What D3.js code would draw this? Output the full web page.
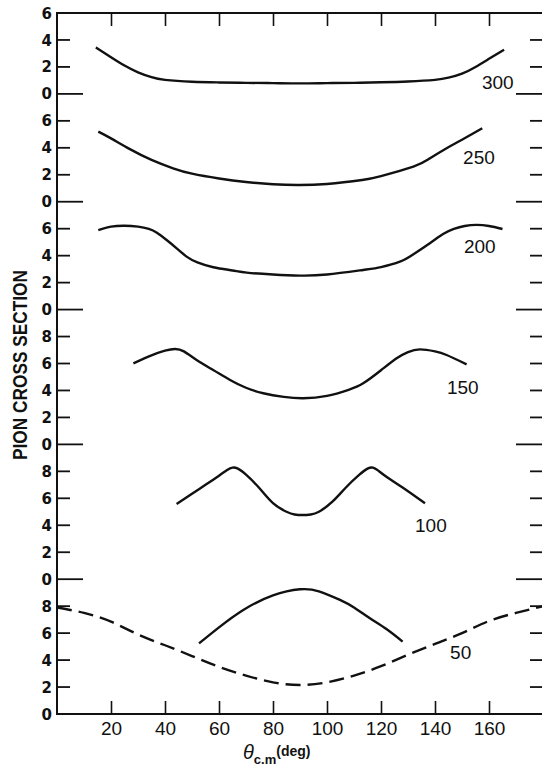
<!DOCTYPE html>
<html>
<head>
<meta charset="utf-8">
<script src="https://cdn.jsdelivr.net/npm/d3@7"></script>
<style>
  body { margin: 0; background: #fff; }
  svg { display: block; }
</style>
</head>
<body>
<svg id="chart"></svg>
<script>
// pion energies, one stacked panel each (top to bottom)
const energies = [300, 250, 200, 150, 100, 50];
// where each panel's zero sits on the stacked axis
const panelBase = [46, 38, 30, 20, 10, 0];
const panelTicks = [[0, 2, 4, 6], [0, 2, 4, 6], [0, 2, 4, 6], [0, 2, 4, 6, 8], [0, 2, 4, 6, 8], [0, 2, 4, 6, 8]];
const angleTicks = [20, 40, 60, 80, 100, 120, 140, 160];

// curves (theta c.m. in deg, cross section)
const ang300 = [14.4, 20, 25, 30, 35, 40, 50, 60, 70, 80, 90, 100, 110, 120, 130, 140, 145, 150, 155, 160, 165.6];
const cs300  = [3.45, 2.72, 2.1, 1.6, 1.24, 1.04, 0.9, 0.85, 0.82, 0.8, 0.78, 0.8, 0.82, 0.86, 0.92, 1.04, 1.2, 1.5, 2.0, 2.6, 3.28];

const ang250 = [15.3, 20, 27, 35, 43, 50, 60, 70, 80, 89, 100, 113, 120, 132, 138, 144.3, 150, 157.5];
const cs250  = [5.2, 4.7, 3.9, 3.1, 2.48, 2.08, 1.72, 1.46, 1.3, 1.24, 1.32, 1.61, 1.9, 2.6, 3.2, 3.97, 4.6, 5.45];

const ang200 = [15.3, 20, 25, 30, 34, 37, 40.6, 44, 48, 52, 57.9, 65, 70.3, 80, 90, 100, 113.4, 120, 127, 132, 138.1, 143, 147, 151, 155.4, 160, 165];
const cs200  = [5.9, 6.15, 6.22, 6.15, 5.98, 5.7, 5.16, 4.6, 3.93, 3.5, 3.14, 2.9, 2.74, 2.6, 2.52, 2.6, 2.94, 3.15, 3.55, 4.1, 4.92, 5.6, 5.98, 6.2, 6.28, 6.2, 5.98];

const ang150 = [28.3, 35, 40, 43.7, 47, 51.7, 58, 64.1, 70, 76.4, 84, 91.2, 100, 108, 113.4, 120, 125.8, 130, 134.4, 140, 144.3, 151.7];
const cs150  = [6.01, 6.6, 6.95, 7.08, 6.9, 6.26, 5.5, 4.78, 4.2, 3.79, 3.52, 3.42, 3.6, 4.05, 4.53, 5.5, 6.39, 6.85, 7.05, 6.9, 6.63, 5.94];

const ang100 = [44.3, 50, 55, 60, 63, 65, 67, 70, 75, 80, 85, 88, 91, 94, 97, 102, 107, 112, 115, 117, 119, 122, 128, 136.3];
const cs100  = [5.58, 6.34, 7.0, 7.68, 8.1, 8.28, 8.2, 7.75, 6.75, 5.65, 5.0, 4.8, 4.76, 4.8, 5.0, 5.75, 6.8, 7.75, 8.2, 8.28, 8.05, 7.6, 6.8, 5.63];

const ang50 = [52.6, 60, 69, 80, 90, 97, 104.8, 110, 115.9, 122, 128];
const cs50  = [5.24, 6.43, 7.72, 8.8, 9.25, 9.1, 8.46, 7.9, 7.1, 6.3, 5.37];

// dashed curve in the 50 panel
const angDash = [0, 10, 20, 30, 40, 50, 60, 70, 80, 90, 100, 110, 120, 130, 140, 150, 160, 170, 180];
const csDash  = [7.9, 7.5, 6.85, 5.9, 5.1, 4.3, 3.5, 2.85, 2.35, 2.15, 2.35, 2.85, 3.55, 4.4, 5.2, 6.0, 6.9, 7.5, 8.0];

const curves = [
  { angles: ang300, values: cs300 },
  { angles: ang250, values: cs250 },
  { angles: ang200, values: cs200 },
  { angles: ang150, values: cs150 },
  { angles: ang100, values: cs100 },
  { angles: ang50,  values: cs50 }
];

const width = 542, height = 769;
const margin = { left: 57, top: 13, right: -1, bottom: 55 };
const innerWidth = width - margin.left - margin.right;
const innerHeight = height - margin.top - margin.bottom;

const svg = d3.select('#chart')
  .attr('width', width)
  .attr('height', height);

const g = svg.append('g')
  .attr('transform', `translate(${margin.left},${margin.top})`);

const xScale = d3.scaleLinear().domain([0, 180]).range([0, innerWidth]);
const yScale = d3.scaleLinear().domain([0, 52]).range([innerHeight, 0]);

const line = d3.line()
  .x(d => xScale(d[0]))
  .y(d => yScale(d[1]))
  .curve(d3.curveNatural);

// frame
g.append('rect')
  .attr('width', innerWidth)
  .attr('height', innerHeight)
  .attr('fill', 'none')
  .attr('stroke', '#111')
  .attr('stroke-width', 2);

// x axis, inward ticks on top and bottom
const xAxis = d3.axisBottom(xScale)
  .tickValues(angleTicks)
  .tickSizeInner(-13)
  .tickSizeOuter(0)
  .tickPadding(8);

const xAxisG = g.append('g')
  .attr('transform', `translate(0,${innerHeight})`)
  .call(xAxis);
xAxisG.select('.domain').remove();
xAxisG.selectAll('line').attr('stroke', '#111').attr('stroke-width', 1.6);
xAxisG.selectAll('text')
  .attr('fill', '#111')
  .style('font-family', '"Liberation Sans", Arial, sans-serif')
  .style('font-size', '19px');

const xTopG = g.append('g')
  .call(d3.axisTop(xScale).tickValues(angleTicks).tickSizeInner(-13).tickSizeOuter(0));
xTopG.select('.domain').remove();
xTopG.selectAll('text').remove();
xTopG.selectAll('line').attr('stroke', '#111').attr('stroke-width', 1.6);

// stacked y ticks
const yTicks = [];
energies.forEach((e, i) => {
  panelTicks[i].forEach(v => yTicks.push({ pos: panelBase[i] + v, label: v }));
});

const inner = yTicks.filter(t => t.pos > 0 && t.pos < 52);
g.selectAll('.ytick-l').data(inner).enter().append('line')
  .attr('x1', 0)
  .attr('x2', d => d.label === 0 ? 26 : 13)
  .attr('y1', d => yScale(d.pos))
  .attr('y2', d => yScale(d.pos))
  .attr('stroke', '#111')
  .attr('stroke-width', 1.8);

g.selectAll('.ytick-r').data(inner).enter().append('line')
  .attr('x1', innerWidth)
  .attr('x2', d => innerWidth - (d.label === 0 ? 27 : 13))
  .attr('y1', d => yScale(d.pos))
  .attr('y2', d => yScale(d.pos))
  .attr('stroke', '#111')
  .attr('stroke-width', 1.8);

g.selectAll('.ylabel').data(yTicks).enter().append('text')
  .attr('x', -5)
  .attr('y', d => yScale(d.pos))
  .attr('dy', '0.37em')
  .attr('text-anchor', 'end')
  .attr('fill', '#111')
  .style('font-family', '"DejaVu Sans", sans-serif')
  .style('font-weight', 'bold')
  .style('font-size', '15px')
  .text(d => d.label);

// curves
curves.forEach((c, i) => {
  g.append('path')
    .datum(c.angles.map((a, k) => [a, panelBase[i] + c.values[k]]))
    .attr('d', line)
    .attr('fill', 'none')
    .attr('stroke', '#111')
    .attr('stroke-width', 2.4);
});

g.append('path')
  .datum(angDash.map((a, k) => [a, csDash[k]]))
  .attr('d', line)
  .attr('fill', 'none')
  .attr('stroke', '#111')
  .attr('stroke-width', 2.4)
  .attr('stroke-dasharray', '15,7');

// energy labels next to the curves
const labelAt = [[157.4, 0.37], [150.4, 2.8], [150.7, 4.2], [144.4, 3.74], [132.6, 3.5], [145.6, 4.08]];
energies.forEach((e, i) => {
  g.append('text')
    .attr('x', xScale(labelAt[i][0]))
    .attr('y', yScale(panelBase[i] + labelAt[i][1]))
    .attr('fill', '#111')
    .style('font-family', '"Liberation Sans", Arial, sans-serif')
    .style('font-size', '19px')
    .text(e);
});

// axis titles
svg.append('text')
  .attr('transform', 'translate(27,365) rotate(-90)')
  .attr('text-anchor', 'middle')
  .attr('fill', '#111')
  .attr('textLength', 190)
  .attr('lengthAdjust', 'spacingAndGlyphs')
  .style('font-family', '"Liberation Sans", Arial, sans-serif')
  .style('font-weight', 'bold')
  .style('font-size', '20px')
  .text('PION CROSS SECTION');

const xt = svg.append('text')
  .attr('x', 243)
  .attr('y', 759)
  .attr('fill', '#111')
  .style('font-family', '"Liberation Sans", Arial, sans-serif');
xt.append('tspan').style('font-size', '20px').style('font-style', 'italic').text('θ');
xt.append('tspan').attr('dy', 5).style('font-size', '13px').style('font-weight', 'bold').text('c.m');
xt.append('tspan').attr('dy', -8).style('font-size', '14px').style('font-weight', 'bold').text('(deg)');
</script>
</body>
</html>
